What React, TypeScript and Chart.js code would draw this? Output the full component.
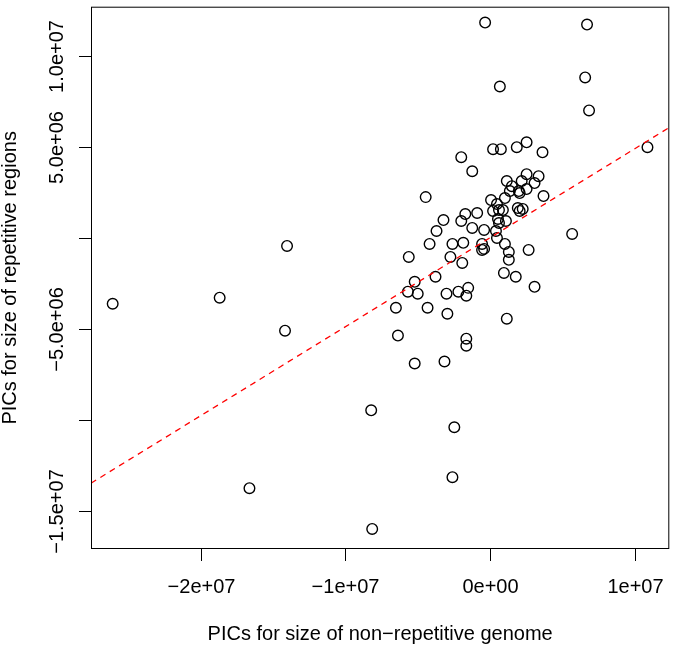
import React, { useEffect, useRef } from "react";
import { Chart, registerables } from "chart.js";

Chart.register(...registerables);

// PICs for size of non-repetitive genome (x)
const picNonRepetitive = [
  -0.34e6, 6.71e6, 0.68e6, 6.58e6, 6.85e6, 10.89e6, 0.21e6, 0.75e6, 1.85e6, 2.53e6,
  3.63e6, -1.99e6, -1.23e6, -4.45e6, 1.16e6, 2.53e6, 2.19e6, 3.36e6, 3.08e6, 1.51e6,
  2.53e6, 1.37e6, 1.99e6, 2.05e6, 3.7e6, 1.03e6, 0.07e6, 0.48e6, 0.89e6, 0.21e6,
  0.62e6, 1.92e6, 2.26e6, 2.05e6, -1.71e6, -0.89e6, -1.99e6, -3.22e6, 0.55e6, 1.1e6,
  0.62e6, -3.7e6, -1.23e6, -0.41e6, 0.41e6, 5.68e6, 0.48e6, -4.18e6, -2.6e6, -1.85e6,
  -0.55e6, 1.03e6, -0.55e6, -0.41e6, 1.3e6, 2.67e6, -5.62e6, -2.74e6, -1.92e6, 1.3e6,
  0.96e6, 1.78e6, 3.08e6, -3.77e6, -5.21e6, -5.68e6, -5.0e6, -3.01e6, -2.19e6, -1.51e6,
  -1.64e6, -6.51e6, -4.32e6, -2.95e6, 1.16e6, -6.37e6, -1.64e6, -1.64e6, -5.21e6, -3.15e6,
  -8.22e6, -2.47e6, -2.6e6, -8.15e6, -26.1e6, -18.7e6, -14.04e6, -14.18e6, -16.64e6,
];

// PICs for size of repetitive regions (y)
const picRepetitive = [
  11.81e6, 11.7e6, 8.3e6, 8.8e6, 6.99e6, 4.97e6, 4.86e6, 4.86e6, 4.97e6, 5.24e6,
  4.69e6, 4.42e6, 3.65e6, 2.23e6, 3.11e6, 3.49e6, 3.11e6, 3.38e6, 3.0e6, 2.83e6,
  2.67e6, 2.56e6, 2.56e6, 2.45e6, 2.29e6, 2.18e6, 2.07e6, 1.85e6, 1.52e6, 1.47e6,
  1.52e6, 1.63e6, 1.58e6, 1.47e6, 1.3e6, 1.36e6, 0.92e6, 0.97e6, 1.03e6, 0.92e6,
  0.81e6, 0.37e6, 0.54e6, 0.43e6, 0.37e6, 0.21e6, -0.01e6, -0.34e6, -0.34e6, -0.28e6,
  -0.34e6, -0.34e6, -0.67e6, -0.61e6, -0.78e6, -0.67e6, -1.05e6, -1.05e6, -1.38e6, -1.21e6,
  -1.93e6, -2.14e6, -2.69e6, -2.14e6, -2.42e6, -2.96e6, -3.07e6, -3.07e6, -2.96e6, -2.75e6,
  -3.18e6, -3.84e6, -3.84e6, -4.17e6, -4.44e6, -5.37e6, -5.54e6, -5.92e6, -6.9e6, -6.79e6,
  -9.47e6, -10.4e6, -13.14e6, -15.98e6, -3.62e6, -3.29e6, -0.45e6, -5.1e6, -13.74e6,
];

// regression through the origin
const regressionSlope = 0.488;

const xTicks = [-2e7, -1e7, 0, 1e7];
const xTickLabels = ["\u22122e+07", "\u22121e+07", "0e+00", "1e+07"];
const yTicks = [-1.5e7, -1e7, -5e6, 0, 5e6, 1e7];
const yTickLabels = ["\u22121.5e+07", "", "\u22125.0e+06", "", "5.0e+06", "1.0e+07"];

const xTitle = "PICs for size of non\u2212repetitive genome";
const yTitle = "PICs for size of repetitive regions";

const xMin = -27.6e6;
const xMax = 12.4e6;
const yMin = -17.08e6;
const yMax = 12.68e6;

const FONT = '20px "Liberation Sans", Arial, Helvetica, sans-serif';

const axesPlugin = {
  id: "rAxes",
  afterDraw(chart: any) {
    const { ctx, chartArea: a, scales } = chart;
    const xs = scales.x;
    const ys = scales.y;
    ctx.save();
    ctx.strokeStyle = "#000";
    ctx.fillStyle = "#000";
    ctx.lineWidth = 1;
    // box
    ctx.strokeRect(a.left + 0.5, a.top + 0.5, a.right - a.left - 1, a.bottom - a.top - 1);
    ctx.font = FONT;
    // x ticks
    ctx.textAlign = "center";
    ctx.textBaseline = "alphabetic";
    xTicks.forEach((v, i) => {
      const px = Math.round(xs.getPixelForValue(v)) + 0.5;
      ctx.beginPath();
      ctx.moveTo(px, a.bottom);
      ctx.lineTo(px, a.bottom + 12);
      ctx.stroke();
      ctx.fillText(xTickLabels[i], px, a.bottom + 44);
    });
    ctx.fillText(xTitle, (a.left + a.right) / 2, a.bottom + 91);
    // y ticks
    yTicks.forEach((v, i) => {
      const py = Math.round(ys.getPixelForValue(v)) + 0.5;
      ctx.beginPath();
      ctx.moveTo(a.left, py);
      ctx.lineTo(a.left - 12, py);
      ctx.stroke();
      if (yTickLabels[i]) {
        ctx.save();
        ctx.translate(a.left - 28, py);
        ctx.rotate(-Math.PI / 2);
        ctx.fillText(yTickLabels[i], 0, 0);
        ctx.restore();
      }
    });
    ctx.save();
    ctx.translate(a.left - 75, (a.top + a.bottom) / 2);
    ctx.rotate(-Math.PI / 2);
    ctx.fillText(yTitle, 0, 0);
    ctx.restore();
    ctx.restore();
  },
};

export default function App() {
  const canvasRef = useRef<HTMLCanvasElement>(null);

  useEffect(() => {
    if (!canvasRef.current) return;
    const points = picNonRepetitive.map((x, i) => ({ x, y: picRepetitive[i] }));
    const line = [
      { x: xMin, y: regressionSlope * xMin },
      { x: xMax, y: regressionSlope * xMax },
    ];
    const chart = new Chart(canvasRef.current, {
      type: "scatter",
      data: {
        datasets: [
          {
            type: "line",
            data: line,
            borderColor: "#ff0000",
            borderWidth: 1.3,
            borderDash: [6, 5],
            pointRadius: 0,
            fill: false,
          } as any,
          {
            data: points,
            pointStyle: "circle",
            pointRadius: 5.3,
            pointHoverRadius: 5.3,
            borderColor: "#000000",
            backgroundColor: "rgba(0,0,0,0)",
            pointBorderWidth: 1.4,
            borderWidth: 1.4,
          },
        ],
      },
      options: {
        responsive: false,
        animation: false,
        events: [],
        layout: { padding: { left: 91, right: 1, top: 5, bottom: 96 } },
        plugins: { legend: { display: false }, tooltip: { enabled: false } },
        scales: {
          x: { type: "linear", min: xMin, max: xMax, display: false },
          y: { type: "linear", min: yMin, max: yMax, display: false },
        },
      },
      plugins: [axesPlugin],
    });
    return () => chart.destroy();
  }, []);

  return (
    <div style={{ position: "absolute", left: 0, top: 0, width: 676, height: 645, background: "#fff" }}>
      <canvas ref={canvasRef} width={676} height={645} style={{ display: "block" }} />
    </div>
  );
}
